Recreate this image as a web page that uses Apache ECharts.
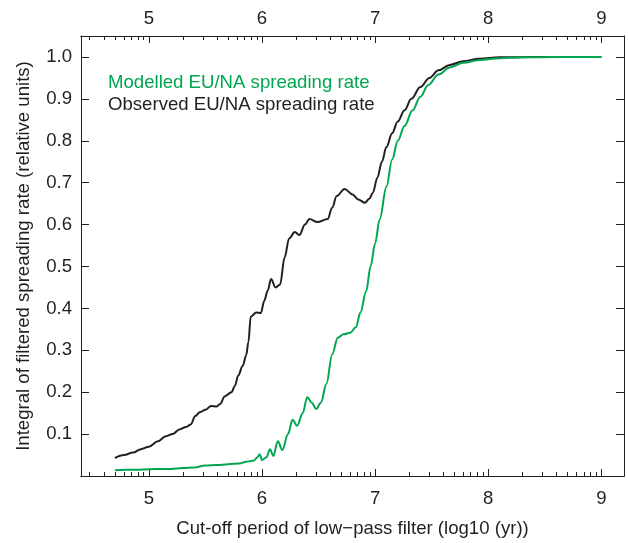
<!DOCTYPE html>
<html>
<head>
<meta charset="utf-8">
<script src="https://cdn.jsdelivr.net/npm/echarts@6/dist/echarts.min.js"></script>
<style>
html,body{margin:0;padding:0;background:#fff;}
#chart{width:628px;height:543px;}
</style>
</head>
<body>
<div id="chart"></div>
<script>
// Observed EU/NA spreading rate (black)
var obsX = [4.70,4.78,4.86,4.93,5.00,5.08,5.15,5.21,5.27,5.33,5.37,5.41,5.45,5.50,5.55,5.60,5.63,5.67,5.73,5.76,5.79,5.83,5.86,5.88,5.90,5.95,5.99,6.02,6.05,6.08,6.12,6.16,6.20,6.24,6.29,6.33,6.38,6.42,6.49,6.58,6.62,6.66,6.73,6.80,6.85,6.91,6.95,6.98,7.02,7.06,7.10,7.15,7.20,7.26,7.32,7.40,7.48,7.56,7.66,7.78,7.92,8.10,8.40,9.00];
var obsY = [0.043,0.050,0.056,0.064,0.070,0.083,0.095,0.100,0.111,0.117,0.123,0.143,0.152,0.158,0.167,0.166,0.172,0.190,0.200,0.215,0.240,0.263,0.288,0.320,0.380,0.390,0.389,0.418,0.442,0.470,0.450,0.457,0.522,0.567,0.582,0.575,0.600,0.613,0.606,0.613,0.640,0.668,0.685,0.672,0.660,0.652,0.662,0.676,0.712,0.750,0.785,0.818,0.846,0.873,0.900,0.928,0.950,0.968,0.981,0.990,0.996,0.999,1.000,1.000];
// Modelled EU/NA spreading rate (green)
var modX = [4.70,4.80,4.90,5.00,5.10,5.20,5.30,5.40,5.50,5.60,5.70,5.80,5.86,5.93,5.96,5.98,6.00,6.04,6.07,6.10,6.14,6.18,6.23,6.27,6.31,6.36,6.40,6.44,6.48,6.52,6.57,6.62,6.67,6.72,6.78,6.83,6.87,6.92,6.96,7.00,7.04,7.10,7.15,7.20,7.26,7.33,7.40,7.47,7.56,7.66,7.78,7.93,8.10,8.30,8.60,9.00];
var modY = [0.014,0.015,0.015,0.016,0.017,0.017,0.019,0.020,0.025,0.026,0.028,0.030,0.034,0.037,0.045,0.052,0.038,0.045,0.064,0.048,0.083,0.062,0.100,0.134,0.120,0.150,0.188,0.175,0.160,0.175,0.220,0.290,0.330,0.338,0.342,0.355,0.390,0.440,0.500,0.555,0.612,0.690,0.755,0.800,0.835,0.872,0.905,0.933,0.958,0.975,0.986,0.993,0.997,0.999,1.000,1.000];

var xMajor = [5, 6, 7, 8, 9];
var yMajor = [0.1, 0.2, 0.3, 0.4, 0.5, 0.6, 0.7, 0.8, 0.9, 1.0];
var seriesNames = ['Modelled EU/NA spreading rate', 'Observed EU/NA spreading rate'];

var X_MIN = 4.4, X_MAX = 9.2;
var xMinor = [];
for (var d = 4; d <= 9; d++) {
  for (var k = 2; k <= 9; k++) {
    var v = d + Math.log10(k);
    if (v > X_MIN && v < X_MAX) xMinor.push(v);
  }
}

function pairs(xs, ys) { return xs.map(function (x, i) { return [x, ys[i]]; }); }

var FONT = 'Liberation Sans, Arial, sans-serif';
var FS = 18.6;
var INK = '#231f20';
var GREEN = '#00a651';
var lineStyle = { color: INK, width: 1 };

function xAx(pos, ticks, len, labels, margin, extra) {
  var a = {
    type: 'value', position: pos, min: X_MIN, max: X_MAX,
    axisLine: { show: true, lineStyle: lineStyle },
    axisTick: { show: true, inside: true, length: len, customValues: ticks, lineStyle: lineStyle },
    axisLabel: labels ? { show: true, customValues: labels, color: INK, fontFamily: FONT, fontSize: FS, margin: margin } : { show: false },
    splitLine: { show: false }
  };
  if (extra) for (var key in extra) a[key] = extra[key];
  return a;
}

var chart = echarts.init(document.getElementById('chart'), null, { renderer: 'canvas' });
chart.setOption({
  animation: false,
  backgroundColor: '#fff',
  grid: { left: 81, right: 4, top: 36, bottom: 57, containLabel: false },
  legend: {
    orient: 'vertical', left: 103, top: 73, padding: 0, itemGap: 3,
    itemWidth: 0, itemHeight: 14, icon: 'none',
    selectedMode: false,
    data: [
      { name: seriesNames[0], textStyle: { color: GREEN } },
      { name: seriesNames[1], textStyle: { color: INK } }
    ],
    textStyle: { fontFamily: FONT, fontSize: FS }
  },
  xAxis: [
    xAx('bottom', xMajor, 7, xMajor, 13, {
      name: 'Cut-off period of low\u2212pass filter (log10 (yr))',
      nameLocation: 'middle', nameGap: 43,
      nameTextStyle: { color: INK, fontFamily: FONT, fontSize: FS }
    }),
    xAx('bottom', xMinor, 4, null, 0),
    xAx('top', xMajor, 7, xMajor, 8),
    xAx('top', xMinor, 4, null, 0)
  ],
  yAxis: [
    {
      type: 'value', position: 'left', min: 0, max: 1.05,
      axisLine: { show: true, lineStyle: lineStyle },
      axisTick: { show: true, inside: true, length: 8, customValues: yMajor, lineStyle: lineStyle },
      axisLabel: { show: true, customValues: yMajor, color: INK, fontFamily: FONT, fontSize: FS, margin: 9,
        formatter: function (v) { return v.toFixed(1); } },
      splitLine: { show: false },
      name: 'Integral of filtered spreading rate (relative units)',
      nameLocation: 'middle', nameGap: 48,
      nameTextStyle: { color: INK, fontFamily: FONT, fontSize: FS }
    },
    {
      type: 'value', position: 'right', min: 0, max: 1.05,
      axisLine: { show: true, lineStyle: lineStyle },
      axisTick: { show: true, inside: true, length: 8, customValues: yMajor, lineStyle: lineStyle },
      axisLabel: { show: false },
      splitLine: { show: false }
    }
  ],
  series: [
    {
      name: seriesNames[0], type: 'line', xAxisIndex: 0, yAxisIndex: 0,
      data: pairs(modX, modY), showSymbol: false, symbol: 'none',
      smooth: 0.35, smoothMonotone: 'x',
      lineStyle: { color: GREEN, width: 2 }, itemStyle: { color: GREEN }, z: 3
    },
    {
      name: seriesNames[1], type: 'line', xAxisIndex: 0, yAxisIndex: 0,
      data: pairs(obsX, obsY), showSymbol: false, symbol: 'none',
      smooth: 0.35, smoothMonotone: 'x',
      lineStyle: { color: INK, width: 2 }, itemStyle: { color: INK }, z: 2
    }
  ]
});
</script>
</body>
</html>
